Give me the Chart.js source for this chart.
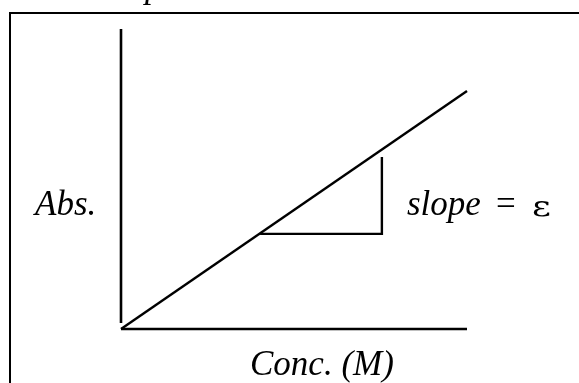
<!DOCTYPE html>
<html>
<head>
<meta charset="utf-8">
<script src="https://cdn.jsdelivr.net/npm/chart.js@4.4.1/dist/chart.umd.min.js"></script>
<style>
  html, body { margin: 0; padding: 0; background: #fff; }
  #wrap { width: 579px; height: 383px; position: relative; }
</style>
</head>
<body>
<div id="wrap"><canvas id="plot" width="579" height="383"></canvas></div>
<script>
// schematic Beer's law plot (no numbers, just the shape)
const lineX = [0, 1];
const lineY = [0, 0.793];

// slope triangle under the line
const triX = [0.402, 0.754, 0.754];
const triY = [0.317, 0.317, 0.573];

// the two axes
const yAxisX = [0, 0];
const yAxisY = [0.02, 1];
const xAxisX = [0, 1];
const xAxisY = [0, 0];

const serif = "'Liberation Serif', 'Times New Roman', serif";

function pts(xs, ys) {
    return xs.map((x, i) => ({ x: x, y: ys[i] }));
}

const lineStyle = {
    showLine: true,
    borderColor: "#000",
    borderWidth: 2.4,
    pointRadius: 0,
    fill: false,
    tension: 0,
    clip: false
};

// frame + text labels drawn on top
const decor = {
    id: "decor",
    afterDraw(chart) {
        const ctx = chart.ctx;
        ctx.save();
        ctx.strokeStyle = "#000";
        ctx.lineWidth = 2;
        ctx.beginPath();
        ctx.moveTo(10, 400);
        ctx.lineTo(10, 13);
        ctx.lineTo(590, 13);
        ctx.stroke();

        ctx.fillStyle = "#000";
        ctx.textBaseline = "alphabetic";
        ctx.textAlign = "left";
        ctx.font = "italic 35px " + serif;
        ctx.fillText("p", 145, -3);
        ctx.fillText("Abs.", 35, 215);
        ctx.fillText("Conc. (M)", 250, 375);
        ctx.fillText("slope", 407, 215);
        ctx.font = "35px " + serif;
        ctx.fillText("=", 496, 215);
        // epsilon is wider in the original (symbol font look)
        ctx.translate(532, 216);
        ctx.scale(1.3, 1);
        ctx.font = "28px 'DejaVu Serif', serif";
        ctx.fillText("\u03B5", 0, 0);
        ctx.restore();
    }
};

new Chart(document.getElementById("plot"), {
    type: "scatter",
    data: {
        datasets: [
            Object.assign({ data: pts(yAxisX, yAxisY) }, lineStyle, { borderWidth: 2.6 }),
            Object.assign({ data: pts(xAxisX, xAxisY) }, lineStyle, { borderWidth: 2.6 }),
            Object.assign({ data: pts(lineX, lineY) }, lineStyle),
            Object.assign({ data: pts(triX, triY) }, lineStyle)
        ]
    },
    options: {
        responsive: false,
        animation: false,
        layout: { padding: { left: 121, right: 112, top: 29, bottom: 54 } },
        plugins: { legend: { display: false }, tooltip: { enabled: false } },
        scales: {
            x: { type: "linear", min: 0, max: 1, display: false },
            y: { type: "linear", min: 0, max: 1, display: false }
        }
    },
    plugins: [decor]
});
</script>
</body>
</html>
